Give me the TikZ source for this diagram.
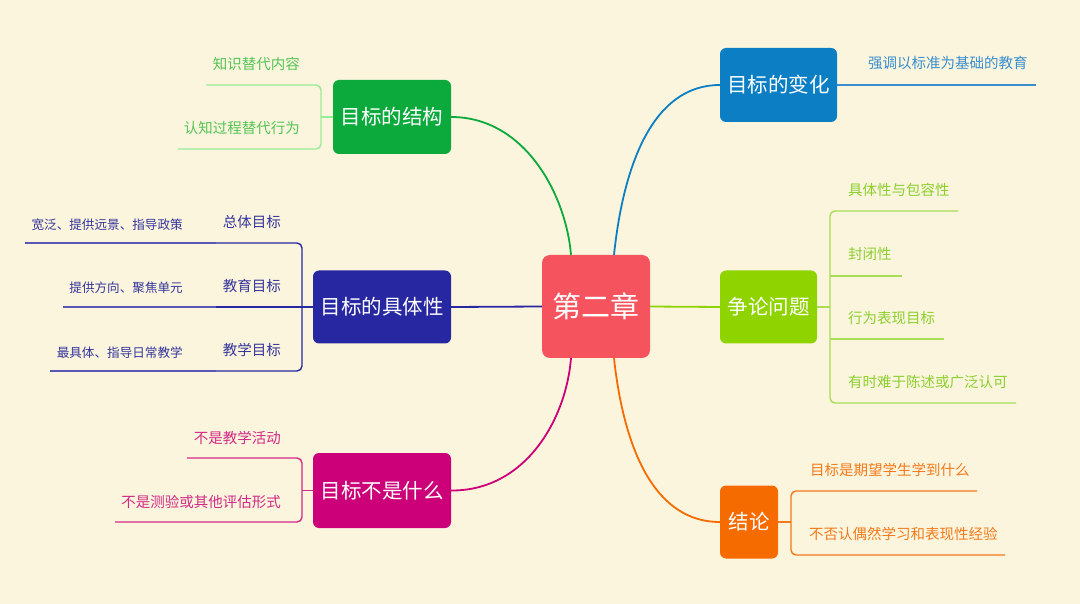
\documentclass[tikz,border=0pt]{standalone}
\usepackage{fontspec}
\newfontfamily\cjk{Noto Sans CJK SC}
\usetikzlibrary{positioning}
\definecolor{mapbg}{HTML}{FBF5DD}
\definecolor{maincol}{HTML}{F5535E}
\definecolor{strcol}{HTML}{0CAA3D}
\definecolor{strsub}{HTML}{55C455}
\definecolor{strline}{HTML}{98EC98}
\definecolor{chgcol}{HTML}{0B7EC4}
\definecolor{chgsub}{HTML}{3A8ECF}
\definecolor{spccol}{HTML}{2727A2}
\definecolor{spcsub}{HTML}{35359C}
\definecolor{spcline}{HTML}{5858B4}
\definecolor{argcol}{HTML}{8FD400}
\definecolor{argsub}{HTML}{8CD02E}
\definecolor{argline}{HTML}{A8DD55}
\definecolor{notcol}{HTML}{CC0078}
\definecolor{notsub}{HTML}{D22A86}
\definecolor{endcol}{HTML}{F66B00}
\definecolor{endsub}{HTML}{F37A1C}

\begin{document}
\begin{tikzpicture}[x=1pt, y=-1pt,
    topic/.style={rounded corners=6pt, text=white, inner sep=0pt,
                  font=\cjk\fontsize{20.5}{22}\selectfont},
    sub/.style={inner sep=0pt, font=\cjk\fontsize{14.5}{16}\selectfont},
    leaf/.style={inner sep=0pt, font=\cjk\fontsize{12.6}{14}\selectfont},
    link/.style={line width=1.8pt},
    twig/.style={line width=1.4pt, rounded corners=5pt}]
  \fill[mapbg] (0,0) rectangle (1080,604);
  \useasboundingbox (0,0) rectangle (1080,604);

  % centre and main topics
  \node[topic, fill=maincol, rounded corners=8pt, minimum width=108pt, minimum height=103pt,
        font=\cjk\fontsize{29}{30}\selectfont] (ch2) at (596,306.5) {第二章};
  \node[topic, fill=strcol, minimum width=118pt, minimum height=74pt] (struct) at (392,117) {目标的结构};
  \node[topic, fill=chgcol, minimum width=117pt, minimum height=74pt] (change) at (778.5,85) {目标的变化};
  \node[topic, fill=spccol, minimum width=138pt, minimum height=73pt] (spec) at (382,307) {目标的具体性};
  \node[topic, fill=argcol, minimum width=97pt, minimum height=73pt] (argue) at (768.5,307) {争论问题};
  \node[topic, fill=notcol, minimum width=138pt, minimum height=75pt] (isnot) at (382,490.5) {目标不是什么};
  \node[topic, fill=endcol, minimum width=58pt, minimum height=73pt] (concl) at (749,522) {结论};

  \draw[link, strcol] (struct.east) .. controls (525,117) and (566,195) .. ([xshift=-25pt]ch2.north);
  \draw[link, chgcol] ([xshift=18pt]ch2.north) .. controls (624,160) and (655,85) .. (change.west);
  \draw[link, spccol] (ch2.west) -- (spec.east);
  \draw[link, argcol] (ch2.east) -- (argue.west);
  \draw[link, notcol] (isnot.east) .. controls (525,491) and (566,420) .. ([xshift=-25pt]ch2.south);
  \draw[link, endcol] ([xshift=18pt]ch2.south) .. controls (624,450) and (655,522) .. (concl.west);

  % 目标的结构
  \node[sub, text=strsub, anchor=east] (k1) at (300,64) {知识替代内容};
  \node[sub, text=strsub, anchor=east] (k2) at (300,128) {认知过程替代行为};
  \coordinate (k1e) at (206,85);
  \coordinate (k2e) at (178,149);
  \coordinate (kb) at (321,117);
  \draw[twig, strline] (k1e) -| (kb) |- (k2e);
  \draw[twig, strline] (struct.west) -- (kb);

  % 目标的变化
  \node[sub, text=chgsub, anchor=west] (c1) at (868,63) {强调以标准为基础的教育};
  \coordinate (c1e) at (1036,85);
  \draw[twig, chgsub] (change.east |- c1e) -- (c1e);

  % 目标的具体性
  \node[sub, text=spcsub, anchor=east] (s1) at (281,222) {总体目标};
  \node[sub, text=spcsub, anchor=east] (s2) at (281,286) {教育目标};
  \node[sub, text=spcsub, anchor=east] (s3) at (281,350) {教学目标};
  \node[leaf, text=spcsub, anchor=east] (t1) at (183,225) {宽泛、提供远景、指导政策};
  \node[leaf, text=spcsub, anchor=east] (t2) at (183,288) {提供方向、聚焦单元};
  \node[leaf, text=spcsub, anchor=east] (t3) at (183,353) {最具体、指导日常教学};
  \coordinate (sb) at (302,307);
  \coordinate (s1e) at (216,243);
  \coordinate (s2e) at (216,307);
  \coordinate (s3e) at (216,371);
  \draw[twig, spccol] (s1e) -| (sb) |- (s3e);
  \draw[twig, spccol] (spec.west) -- (s2e);
  \draw[line width=1.1pt, spcline] (s1e) -- (25,243);
  \draw[line width=1.1pt, spcline] (s2e) -- (63,307);
  \draw[line width=1.1pt, spcline] (s3e) -- (50,371);

  % 争论问题
  \node[sub, text=argsub, anchor=west] (a1) at (848,190) {具体性与包容性};
  \node[sub, text=argsub, anchor=west] (a2) at (848,254) {封闭性};
  \node[sub, text=argsub, anchor=west] (a3) at (848,318) {行为表现目标};
  \node[sub, text=argsub, anchor=west] (a4) at (848,382) {有时难于陈述或广泛认可};
  \coordinate (ab) at (830,307);
  \coordinate (a1e) at (958,211);
  \coordinate (a2e) at (902,276);
  \coordinate (a3e) at (944,339);
  \coordinate (a4e) at (1016,403);
  \draw[twig, argline] (a1e) -| (ab) |- (a4e);
  \draw[twig, argline] (argue.east) -- (ab);
  \draw[twig, argline] (ab |- a2e) -- (a2e);
  \draw[twig, argline] (ab |- a3e) -- (a3e);

  % 目标不是什么
  \node[sub, text=notsub, anchor=east] (n1) at (281,438) {不是教学活动};
  \node[sub, text=notsub, anchor=east] (n2) at (281,502) {不是测验或其他评估形式};
  \coordinate (nb) at (302,490.5);
  \coordinate (n1e) at (187,458);
  \coordinate (n2e) at (115,522);
  \draw[twig, notsub] (n1e) -| (nb) |- (n2e);
  \draw[twig, notsub] (isnot.west) -- (nb);

  % 结论
  \node[sub, text=endsub, anchor=west] (e1) at (810,470) {目标是期望学生学到什么};
  \node[sub, text=endsub, anchor=west] (e2) at (809,534) {不否认偶然学习和表现性经验};
  \coordinate (eb) at (791,522);
  \coordinate (e1e) at (977,491);
  \coordinate (e2e) at (1005,555);
  \draw[twig, endsub] (e1e) -| (eb) |- (e2e);
  \draw[twig, endsub] (concl.east) -- (eb);
\end{tikzpicture}
\end{document}
